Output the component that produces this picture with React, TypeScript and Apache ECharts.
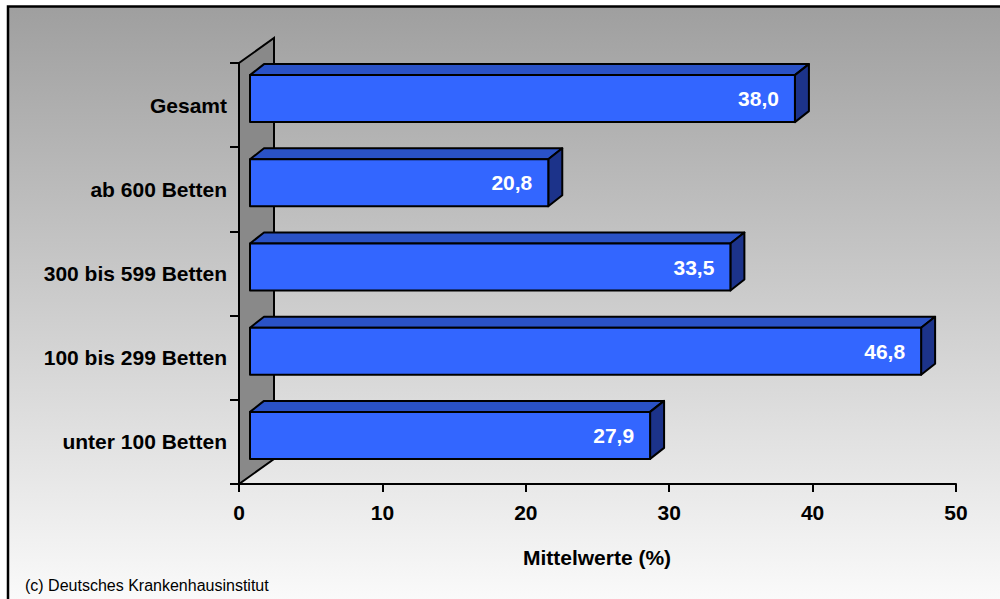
import React, { useEffect, useRef } from "react";
import * as echarts from "echarts";

const categories = ["unter 100 Betten", "100 bis 299 Betten", "300 bis 599 Betten", "ab 600 Betten", "Gesamt"];
const values = [27.9, 46.8, 33.5, 20.8, 38.0];
const xTicks = { min: 0, max: 50, interval: 10 };
const axisTitle = "Mittelwerte (%)";
const footnote = "(c) Deutsches Krankenhausinstitut";

const FONT = "'Liberation Sans', Arial, Helvetica, sans-serif";

export default function App() {
  const ref = useRef<HTMLDivElement>(null);
  useEffect(() => {
    if (!ref.current) return;
    const chart = echarts.init(ref.current, null, { renderer: "svg" });
    const DX = 14, DY = -11;
    const option: any = {
      animation: false,
      grid: { left: 239, top: 63, right: 44, bottom: 115, containLabel: false },
      xAxis: {
        type: "value",
        min: xTicks.min,
        max: xTicks.max,
        interval: xTicks.interval,
        axisLine: { show: true, lineStyle: { color: "#000", width: 2 } },
        axisTick: { show: true, length: 8, lineStyle: { color: "#000", width: 2 } },
        splitLine: { show: false },
        axisLabel: { color: "#000", fontWeight: "bold", fontSize: 21, fontFamily: FONT, margin: 18 },
      },
      yAxis: {
        type: "category",
        data: categories,
        axisLine: { show: true, lineStyle: { color: "#000", width: 2 } },
        axisTick: { show: true, length: 9, alignWithLabel: false, lineStyle: { color: "#000", width: 2 } },
        axisLabel: { color: "#000", fontWeight: "bold", fontSize: 21, fontFamily: FONT, margin: 12 },
        splitLine: { show: false },
      },
      graphic: [
        {
          type: "rect",
          z: -10,
          shape: { x: 8, y: 6.5, width: 1010, height: 600 },
          style: {
            fill: new echarts.graphic.LinearGradient(0, 0, 0, 1, [
              { offset: 0, color: "#9f9f9f" },
              { offset: 1, color: "#fbfbfb" },
            ]),
            stroke: "#000",
            lineWidth: 2.5,
          },
        },
        {
          type: "text",
          x: 597,
          y: 557,
          style: { text: axisTitle, fill: "#000", font: `bold 21px ${FONT}`, align: "center", verticalAlign: "middle" },
        },
        {
          type: "text",
          x: 25,
          y: 585,
          style: { text: footnote, fill: "#000", font: `16px ${FONT}`, align: "left", verticalAlign: "middle" },
        },
      ],
      series: [
        {
          type: "custom",
          clip: false,
          data: [[0, 0]],
          z: 1,
          renderItem: (params: any, api: any) => {
            const cs = params.coordSys;
            const x = cs.x, y = cs.y, h = cs.height;
            return {
              type: "polygon",
              shape: { points: [[x, y + h], [x, y], [x + 35, y - 25], [x + 35, y + h - 25]] },
              style: { fill: "#898989", stroke: "#000", lineWidth: 2 },
            };
          },
        },
        {
          type: "custom",
          clip: false,
          z: 3,
          data: values.map((v, i) => [v, i]),
          renderItem: (params: any, api: any) => {
            const v = api.value(0);
            const idx = api.value(1);
            const p0 = api.coord([0, idx]);
            const p1 = api.coord([v, idx]);
            const xl = p0[0] + 11;
            const xr = p1[0] + 11;
            const yt = p0[1] - 30;
            const yb = p0[1] + 17;
            const stroke = { stroke: "#000", lineWidth: 2, lineJoin: "round" };
            return {
              type: "group",
              children: [
                {
                  type: "polygon",
                  shape: { points: [[xl, yt], [xl + DX, yt + DY], [xr + DX, yt + DY], [xr, yt]] },
                  style: { fill: "#2a52c6", ...stroke },
                },
                {
                  type: "polygon",
                  shape: { points: [[xr, yt], [xr + DX, yt + DY], [xr + DX, yb + DY], [xr, yb]] },
                  style: { fill: "#1c338a", ...stroke },
                },
                {
                  type: "rect",
                  shape: { x: xl, y: yt, width: xr - xl, height: yb - yt },
                  style: { fill: "#3366ff", ...stroke },
                },
                {
                  type: "text",
                  x: xr - 16,
                  y: (yt + yb) / 2,
                  style: {
                    text: v.toFixed(1).replace(".", ","),
                    fill: "#fff",
                    font: `bold 21px ${FONT}`,
                    align: "right",
                    verticalAlign: "middle",
                  },
                },
              ],
            };
          },
        },
      ],
    };
    chart.setOption(option);
    return () => chart.dispose();
  }, []);
  return (
    <div
      ref={ref}
      style={{ position: "fixed", left: 0, top: 0, width: 1000, height: 599, background: "#fff" }}
    />
  );
}
